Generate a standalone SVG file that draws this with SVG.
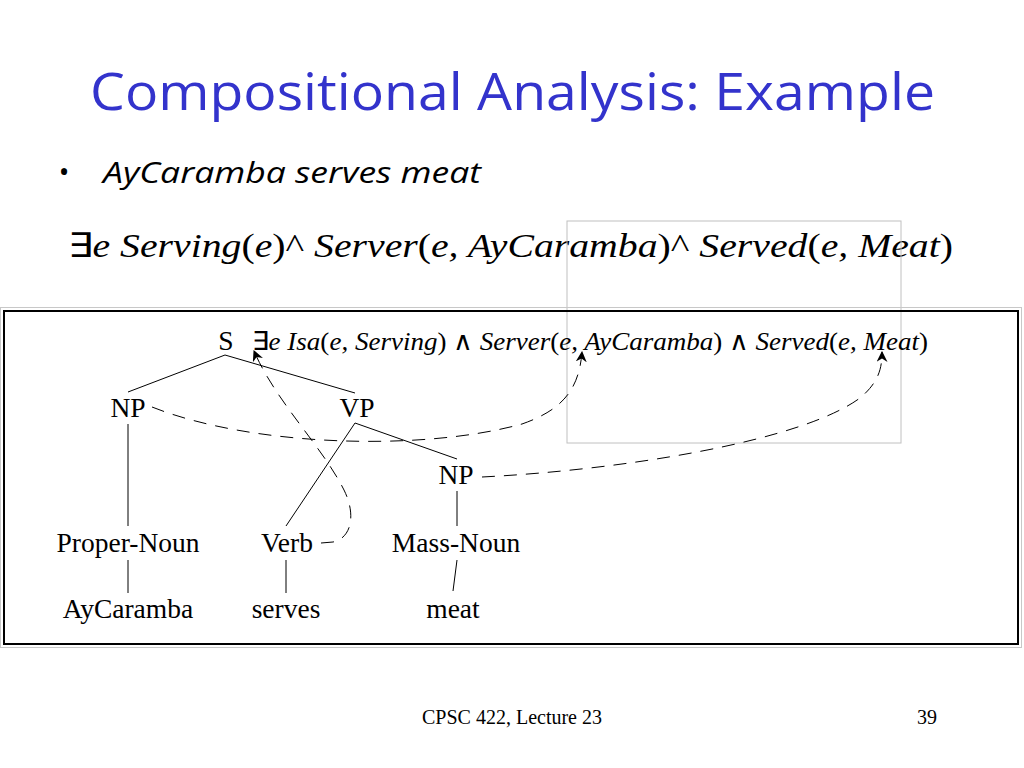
<svg xmlns="http://www.w3.org/2000/svg" width="1024" height="768" viewBox="0 0 1024 768">
<style>
.title{font-family:"Open Sans","Liberation Sans",sans-serif;font-size:52px;fill:#3333CC}
.bul{font-family:"Open Sans","Liberation Sans",sans-serif;font-size:29px;font-style:italic;fill:#000}
.tm{font-family:"Liberation Serif","Times New Roman",serif;fill:#000}
.lbl{font-family:"Liberation Serif","Times New Roman",serif;font-size:27.5px;fill:#000;text-anchor:middle}
.up{font-style:normal}
.tree{stroke:#000;stroke-width:1;fill:none}
.dash{stroke:#000;stroke-width:1;fill:none;stroke-dasharray:13 9}
</style>
<defs>
<marker id="arr" viewBox="0 0 10 10" refX="9" refY="5" markerWidth="11" markerHeight="11" markerUnits="userSpaceOnUse" orient="auto">
<path d="M0,0 L10,5 L0,10 L3,5 Z" fill="#000"/>
</marker>
</defs>
<rect width="1024" height="768" fill="#fff"/>
<text class="title" x="90" y="110" textLength="845" lengthAdjust="spacingAndGlyphs">Compositional Analysis: Example</text>
<text class="bul" x="58" y="182" font-style="normal" font-size="24">•</text>
<text class="bul" x="103" y="183" textLength="378" lengthAdjust="spacingAndGlyphs">AyCaramba serves meat</text>
<text class="tm" x="68" y="257" font-size="34" font-style="italic" textLength="885" lengthAdjust="spacingAndGlyphs"><tspan class="up">∃</tspan>e Serving<tspan class="up">(</tspan>e<tspan class="up">)^</tspan> Server<tspan class="up">(</tspan>e, AyCaramba<tspan class="up">)^</tspan> Served<tspan class="up">(</tspan>e, Meat<tspan class="up">)</tspan></text>
<rect x="567" y="221" width="334" height="222" fill="none" stroke="#c0c0c0" stroke-width="1"/>
<rect x="0.5" y="307.5" width="1021" height="340" fill="none" stroke="#c8c8c8" stroke-width="1"/>
<rect x="4" y="311" width="1014" height="333" fill="none" stroke="#000" stroke-width="2"/>
<g id="connectors">
<line class="tree" x1="225" y1="355" x2="128" y2="392"/>
<line class="tree" x1="225" y1="355" x2="355" y2="393"/>
<line class="tree" x1="128" y1="424" x2="128" y2="526"/>
<line class="tree" x1="128" y1="560" x2="128" y2="593"/>
<line class="tree" x1="355" y1="423" x2="286" y2="526"/>
<line class="tree" x1="355" y1="423" x2="457" y2="459"/>
<line class="tree" x1="457" y1="491" x2="457" y2="526"/>
<line class="tree" x1="457" y1="560" x2="453" y2="591"/>
<line class="tree" x1="286" y1="560" x2="286" y2="593"/>
<path class="dash" d="M321,543 L333,542 C352,538 356,514 344,490 C322,446 276,402 254,351" marker-end="url(#arr)"/>
<path class="dash" d="M152,407 C250,446 420,452 522,424 C562,410 579,390 582,352" marker-end="url(#arr)"/>
<path class="dash" d="M482,477 C620,470 800,442 860,398 C879,382 882,368 882,352" marker-end="url(#arr)"/>
</g>
<g id="S"><text class="lbl" x="226" y="350">S</text></g>
<g id="sem"><text class="tm" x="252" y="350" font-size="26" font-style="italic" textLength="676" lengthAdjust="spacingAndGlyphs"><tspan class="up">∃</tspan>e Isa<tspan class="up">(</tspan>e, Serving<tspan class="up">) ∧ </tspan>Server<tspan class="up">(</tspan>e, AyCaramba<tspan class="up">) ∧ </tspan>Served<tspan class="up">(</tspan>e, Meat<tspan class="up">)</tspan></text></g>
<g id="NP1"><text class="lbl" x="128" y="417">NP</text></g>
<g id="VP"><text class="lbl" x="357" y="417">VP</text></g>
<g id="NP2"><text class="lbl" x="456" y="484">NP</text></g>
<g id="ProperNoun"><text class="lbl" x="128" y="552">Proper-Noun</text></g>
<g id="Verb"><text class="lbl" x="287" y="552">Verb</text></g>
<g id="MassNoun"><text class="lbl" x="456" y="552">Mass-Noun</text></g>
<g id="AyCaramba"><text class="lbl" x="128" y="618">AyCaramba</text></g>
<g id="serves"><text class="lbl" x="286" y="618">serves</text></g>
<g id="meat"><text class="lbl" x="453" y="618">meat</text></g>
<text class="tm" x="422" y="724" font-size="20">CPSC 422, Lecture 23</text>
<text class="tm" x="917" y="724" font-size="20">39</text>
</svg>
